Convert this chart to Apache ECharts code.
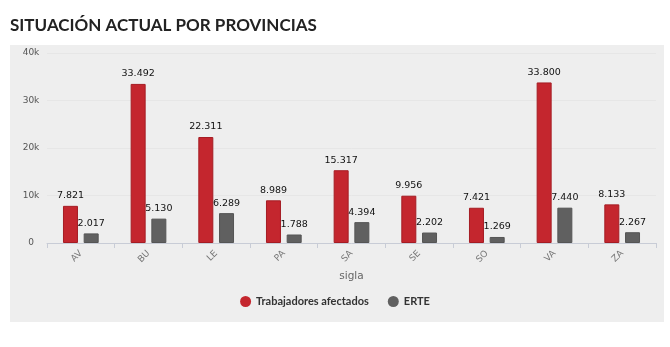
<!DOCTYPE html>
<html>
<head>
<meta charset="utf-8">
<script src="https://cdn.jsdelivr.net/npm/echarts@6/dist/echarts.min.js"></script>
<style>
html,body{margin:0;padding:0;background:#fff;}
#c{width:670px;height:347px;}
</style>
</head>
<body>
<div id="c"></div>
<script>
const categories = ['AV','BU','LE','PA','SA','SE','SO','VA','ZA'];
const trabajadores = [7821, 33492, 22311, 8989, 15317, 9956, 7421, 33800, 8133];
const erte = [2017, 5130, 6289, 1788, 4394, 2202, 1269, 7440, 2267];
const yTicks = [0, 10000, 20000, 30000, 40000];

function fmtDot(v){ return String(v).replace(/\B(?=(\d{3})+(?!\d))/g, '.'); }

const chart = echarts.init(document.getElementById('c'), null, {renderer:'canvas'});
chart.setOption({
  animation:false,
  backgroundColor:'#ffffff',
  title:{
    text:'SITUACIÓN ACTUAL POR PROVINCIAS',
    left:5, top:12,
    textStyle:{fontFamily:'Lato', fontWeight:'bold', fontSize:17, color:'#222'}
  },
  graphic:[{
    type:'rect', z:-10, silent:true,
    shape:{x:10, y:45, width:654, height:277},
    style:{fill:'#eeeeee'}
  }],
  legend:{
    top:291, left:'center',
    icon:'circle', itemWidth:11, itemHeight:11, itemGap:19, itemStyle:{borderWidth:0},
    textStyle:{fontFamily:'Lato', fontWeight:'bold', fontSize:11, color:'#333'},
    data:['Trabajadores afectados','ERTE']
  },
  grid:{left:47, right:14, top:53, bottom:104, containLabel:false},
  xAxis:{
    type:'category', data:categories,
    name:'sigla', nameLocation:'middle', nameGap:27,
    nameTextStyle:{fontFamily:'DejaVu Sans', fontSize:10.5, color:'#666'},
    axisLine:{lineStyle:{color:'#c8ccd6'}},
    axisTick:{show:true, length:5, lineStyle:{color:'#c8ccd6'}},
    axisLabel:{rotate:45, fontFamily:'DejaVu Sans', fontSize:9, color:'#777', margin:9}
  },
  yAxis:{
    type:'value', min:0, max:40000, interval:10000,
    axisLine:{show:false}, axisTick:{show:false},
    splitLine:{lineStyle:{color:'#e6e6e6'}},
    axisLabel:{fontFamily:'DejaVu Sans', fontSize:9, color:'#555', margin:16, align:'center',
      formatter:function(v){ return v===0 ? '0' : (v/1000)+'k'; }}
  },
  series:[
    {
      name:'Trabajadores afectados', type:'bar', data:trabajadores,
      barWidth:15, barGap:'38%',
      itemStyle:{color:'#c4262e', borderColor:'#a51c23', borderWidth:1},
      label:{show:true, position:'top', distance:5, fontFamily:'DejaVu Sans', fontSize:9.5, color:'#111',
        formatter:function(p){ return fmtDot(p.value); }}
    },
    {
      name:'ERTE', type:'bar', data:erte,
      barWidth:15,
      itemStyle:{color:'#606060', borderColor:'#555', borderWidth:1},
      label:{show:true, position:'top', distance:5, fontFamily:'DejaVu Sans', fontSize:9.5, color:'#111',
        formatter:function(p){ return fmtDot(p.value); }}
    }
  ]
});
</script>
</body>
</html>
